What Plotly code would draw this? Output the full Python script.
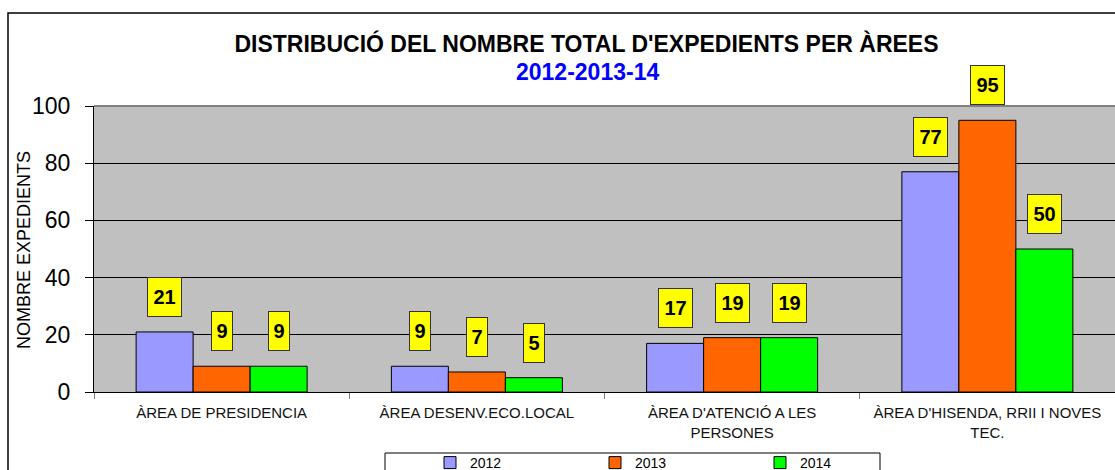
import plotly.graph_objects as go

categories = [
    "ÀREA DE PRESIDENCIA",
    "ÀREA DESENV.ECO.LOCAL",
    "ÀREA D'ATENCIÓ A LES<br>PERSONES",
    "ÀREA D'HISENDA, RRII I NOVES<br>TEC.",
]
years = ["2012", "2013", "2014"]
values_2012 = [21, 9, 17, 77]
values_2013 = [9, 7, 19, 95]
values_2014 = [9, 5, 19, 50]
colors = ["#9999FF", "#FF6600", "#00FF00"]

series = [values_2012, values_2013, values_2014]

W, H = 1115, 470
ML, MR, MT, MB = 94, 0, 106, 78
BARGAP = 0.33
FONT = "Liberation Sans, Arial, sans-serif"

fig = go.Figure()
for name, vals, col in zip(years, series, colors):
    fig.add_trace(go.Bar(
        x=categories, y=vals, name=name,
        marker=dict(color=col, line=dict(color="black", width=1)),
    ))

plot_w = W - ML - MR
plot_h = H - MT - MB
cat_w = plot_w / len(categories)
bar_w = cat_w * (1 - BARGAP) / len(years)

annotations = []
for j, vals in enumerate(series):
    for i, v in enumerate(vals):
        n = len(str(v))
        annotations.append(dict(
            x=categories[i], y=v, xref="x", yref="y",
            text=f"<b>{v}</b>", showarrow=False,
            xshift=(j - 1) * bar_w, yshift=15,
            yanchor="bottom", xanchor="center",
            font=dict(family=FONT, size=20, color="black"),
            bgcolor="#FFFF00", bordercolor="#333333", borderwidth=1,
            borderpad=1, width=13 * n + 5, height=36, valign="middle",
        ))

def px_x(px):
    return (px - ML) / plot_w

def px_y(py):
    return (H - MB - py) / plot_h

# subtitle
annotations.append(dict(
    x=px_x(587), xref="paper", y=px_y(72), yref="paper",
    text="<b>2012-2013-14</b>", showarrow=False, xanchor="center", yanchor="middle",
    font=dict(family=FONT, size=23, color="#0000FF"),
))
# y-axis title
annotations.append(dict(
    x=px_x(24), xref="paper", y=px_y(250), yref="paper",
    text="NOMBRE EXPEDIENTS", showarrow=False, textangle=-90,
    xanchor="center", yanchor="middle",
    font=dict(family=FONT, size=18, color="black"),
))

shapes = [
    # outer chart border
    dict(type="rect", xref="paper", yref="paper",
         x0=px_x(8), x1=px_x(1130), y0=px_y(490), y1=px_y(13),
         line=dict(color="black", width=1.5), fillcolor="rgba(0,0,0,0)", layer="below"),
    # legend box
    dict(type="rect", xref="paper", yref="paper",
         x0=px_x(385), x1=px_x(880), y0=px_y(480), y1=px_y(453),
         line=dict(color="black", width=1), fillcolor="white", layer="above"),
    # plot area top border
    dict(type="line", xref="paper", yref="paper", x0=0, x1=1, y0=1, y1=1,
         line=dict(color="#808080", width=2), layer="above"),
]

fig.update_layout(
    width=W, height=H,
    margin=dict(l=ML, r=MR, t=MT, b=MB, autoexpand=False),
    paper_bgcolor="white", plot_bgcolor="#C0C0C0",
    barmode="group", bargap=BARGAP, bargroupgap=0,
    font=dict(family=FONT, color="black"),
    title=dict(
        text="<b>DISTRIBUCIÓ DEL NOMBRE TOTAL D'EXPEDIENTS PER ÀREES</b>",
        x=586.5 / W, xref="container", xanchor="center",
        y=1 - 43.5 / H, yref="container", yanchor="middle",
        font=dict(family=FONT, size=23, color="black"),
    ),
    xaxis=dict(
        type="category", tickson="boundaries", ticks="outside", ticklen=6,
        tickcolor="#808080", showgrid=False, showline=True, linecolor="black",
        linewidth=1, tickfont=dict(family=FONT, size=15, color="#111111"),
        ticklabelstandoff=7,
    ),
    yaxis=dict(
        range=[0, 100], dtick=20, ticks="outside", ticklen=8, tickcolor="black",
        showgrid=True, gridcolor="black", gridwidth=1, zeroline=False,
        showline=True, linecolor="black", linewidth=1,
        tickfont=dict(family=FONT, size=23, color="black"),
        ticklabelstandoff=10,
    ),
    legend=dict(
        orientation="h", x=px_x(430), xanchor="left", y=px_y(447), yanchor="top",
        bgcolor="rgba(0,0,0,0)", borderwidth=0,
        font=dict(family=FONT, size=14, color="black"),
        entrywidth=120, entrywidthmode="pixels", itemwidth=30,
        traceorder="normal",
    ),
    annotations=annotations, shapes=shapes,
)

fig.write_html(
    "out.html",
    config={"displayModeBar": False},
    post_script="document.body.style.margin='0';document.body.style.overflow='hidden';",
)
